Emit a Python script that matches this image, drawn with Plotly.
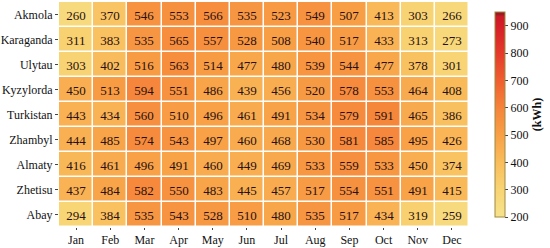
import plotly.graph_objects as go

months = ["Jan", "Feb", "Mar", "Apr", "May", "Jun", "Jul", "Aug", "Sep", "Oct", "Nov", "Dec"]
regions = ["Akmola", "Karaganda", "Ulytau", "Kyzylorda", "Turkistan", "Zhambyl", "Almaty", "Zhetisu", "Abay"]

akmola    = [260, 370, 546, 553, 566, 535, 523, 549, 507, 413, 303, 266]
karaganda = [311, 383, 535, 565, 557, 528, 508, 540, 517, 433, 313, 273]
ulytau    = [303, 402, 516, 563, 514, 477, 480, 539, 544, 477, 378, 301]
kyzylorda = [450, 513, 594, 551, 486, 439, 456, 520, 578, 553, 464, 408]
turkistan = [443, 434, 560, 510, 496, 461, 491, 534, 579, 591, 465, 386]
zhambyl   = [444, 485, 574, 543, 497, 460, 468, 530, 581, 585, 495, 426]
almaty    = [416, 461, 496, 491, 460, 449, 469, 533, 559, 533, 450, 374]
zhetisu   = [437, 484, 582, 550, 483, 445, 457, 517, 554, 551, 491, 415]
abay      = [294, 384, 535, 543, 528, 510, 480, 535, 517, 434, 319, 259]

z = [akmola, karaganda, ulytau, kyzylorda, turkistan, zhambyl, almaty, zhetisu, abay]
cb_ticks = [200, 300, 400, 500, 600, 700, 800, 900]

zmin, zmax = 200, 950
def p(v):
    return (v - zmin) / (zmax - zmin)

colorscale = [
    [p(200), "#f6e38c"],
    [p(300), "#f8d474"],
    [p(400), "#f9bd5c"],
    [p(500), "#f8a046"],
    [p(600), "#f5843a"],
    [p(700), "#ef5f30"],
    [p(800), "#e43a2a"],
    [p(900), "#d41e28"],
    [p(935), "#c81a26"],
    [p(940), "#9c1a20"],
    [p(950), "#961a20"],
]

SERIF = "Times New Roman"

fig = go.Figure(go.Heatmap(
    z=z, x=months, y=regions,
    zmin=zmin, zmax=zmax,
    colorscale=colorscale,
    xgap=1.5, ygap=1.5,
    text=z, texttemplate="%{text}",
    textfont=dict(family=SERIF, size=13, color="#2a1010"),
    colorbar=dict(
        thickness=10, len=1.0, lenmode="fraction", y=0.5, yanchor="middle",
        x=1.0 + 26 / 410, xpad=0, xanchor="left",
        outlinewidth=1, outlinecolor="#a08a40",
        tickvals=cb_ticks, ticks="outside", ticklen=3, tickcolor="#444",
        tickfont=dict(family=SERIF, size=12, color="#111"),
        title=dict(text="<b>(kWh)</b>", side="right",
                   font=dict(family=SERIF, size=12, color="#111")),
    ),
))

fig.update_layout(
    width=550, height=248,
    margin=dict(l=59, r=81, t=2, b=21),
    paper_bgcolor="white", plot_bgcolor="white",
    font=dict(family=SERIF, size=12, color="#111"),
)
fig.update_xaxes(ticks="outside", ticklen=2, tickcolor="#444", showgrid=False,
                 automargin=False,
                 tickfont=dict(family=SERIF, size=12))
fig.update_yaxes(autorange="reversed", ticks="outside", ticklen=3, tickcolor="#444",
                 showgrid=False, automargin=False, tickfont=dict(family=SERIF, size=12))

fig.write_html("out.html", config={"displayModeBar": False},
               post_script="document.body.style.margin='0';document.body.style.overflow='hidden';")
